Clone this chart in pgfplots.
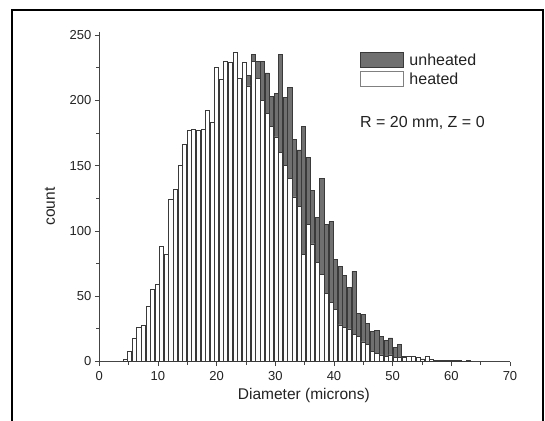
\documentclass[border=0pt]{standalone}
\usepackage{pgfplots}
\pgfplotsset{compat=1.18}
\usepackage{pgfplotstable}
\usepackage{fontspec}
\setmainfont{Liberation Sans}
\definecolor{darkbar}{HTML}{707070}
\definecolor{baredge}{HTML}{3A3A3A}
\definecolor{axisgray}{HTML}{444444}
\definecolor{txt}{HTML}{222222}
\pgfplotstableread{
x h u
4.40 2 1
5.18 8 4
5.96 18 10
6.74 26 15
7.52 28 18
8.30 42 26
9.08 55 35
9.86 59 40
10.64 88 60
11.42 82 58
12.20 124 88
12.98 132 98
13.76 150 112
14.54 166 128
15.32 177 140
16.10 178 146
16.88 177 150
17.66 178 155
18.44 192 170
19.22 183 165
20.00 225 200
20.78 216 195
21.56 230 210
22.34 229 212
23.12 237 222
23.90 217 205
24.68 229 218
25.46 211 219
26.24 230 235
27.02 217 230
27.80 200 230
28.58 190 221
29.36 180 203
30.14 172 205
30.92 160 235
31.70 150 202
32.48 140 210
33.26 126 170
34.04 119 162
34.82 82 180
35.60 105 156
36.38 90 131
37.16 76 110
37.94 67 140
38.72 52 105
39.50 45 107
40.28 40 78
41.06 28 73
41.84 26 66
42.62 25 57
43.40 21 69
44.18 19 37
44.96 15 36
45.74 13 29
46.52 8 23
47.30 6 24
48.08 5 19
48.86 4 16
49.64 5 18
50.42 3 11
51.20 3 13
51.98 3 4
52.76 4 3
53.54 4 4
54.32 3 2
55.10 2 2
55.88 4 1
56.66 2 1
57.44 1 1
58.22 1 1
59.00 1 0
59.78 1 1
60.56 1 0
61.34 1 0
62.12 0 0
62.90 1 0
}\data
\begin{document}
\begin{tikzpicture}
\useasboundingbox (0pt,0pt) rectangle (545pt,420pt);
\draw[black, line width=1.5pt] (12pt,-2pt) -- (12pt,410pt) -- (543pt,410pt) -- (543pt,-2pt);
\begin{axis}[
  at={(99.3pt,58.5pt)}, anchor=south west, scale only axis,
  width=410.7pt, height=329.1pt,
  xmin=0, xmax=70, ymin=0, ymax=252,
  axis x line*=bottom, axis y line*=left,
  axis line style={axisgray, line width=0.8pt, -},
  tick align=outside, major tick length=4.5pt, minor tick length=3pt,
  tick style={axisgray, line width=0.8pt},
  xtick={0,10,...,70}, ytick={0,50,...,250},
  minor x tick num=1, minor y tick num=1,
  /pgf/number format/assume math mode=true,
  ticklabel style={font=\fontsize{13}{15}\selectfont, text=txt},
  xticklabel style={yshift=-2pt},
  xlabel={Diameter (microns)}, ylabel={count},
  label style={font=\fontsize{15.5}{18}\selectfont, text=txt},
  xlabel style={at={(axis description cs:0.498,-0.103)}, anchor=center},
  ylabel style={at={(axis description cs:-0.120,0.471)}, anchor=center},
  legend style={at={(axis description cs:0.6348,0.9405)}, anchor=north west,
    draw=none, fill=none, inner sep=0pt, row sep=3pt,
    font=\fontsize{16}{19}\selectfont, text=txt,
    nodes={inner sep=1.5pt}},
  legend cell align=left,
]
\addplot[ybar, bar width=0.7, bar shift=0pt, fill=darkbar, draw=baredge, line width=0.7pt,
  legend image code/.code={\draw[fill=darkbar, draw=baredge, line width=0.8pt] (0pt,-7.5pt) rectangle (43pt,7.5pt); \path (47pt,0pt);}]
  table[x=x, y=u] {\data};
\addlegendentry{unheated}
\addplot[ybar, bar width=0.7, bar shift=0pt, fill=white, draw=baredge, line width=0.7pt,
  legend image code/.code={\draw[fill=white, draw=gray, line width=0.8pt] (0pt,-7.5pt) rectangle (43pt,7.5pt); \path (47pt,0pt);}]
  table[x=x, y=h] {\data};
\addlegendentry{heated}
\node[anchor=west, inner sep=0pt, font=\fontsize{16}{19}\selectfont, text=txt] at (axis cs:44.43,182.6) {R = 20 mm, Z = 0};
\end{axis}
\end{tikzpicture}
\end{document}
